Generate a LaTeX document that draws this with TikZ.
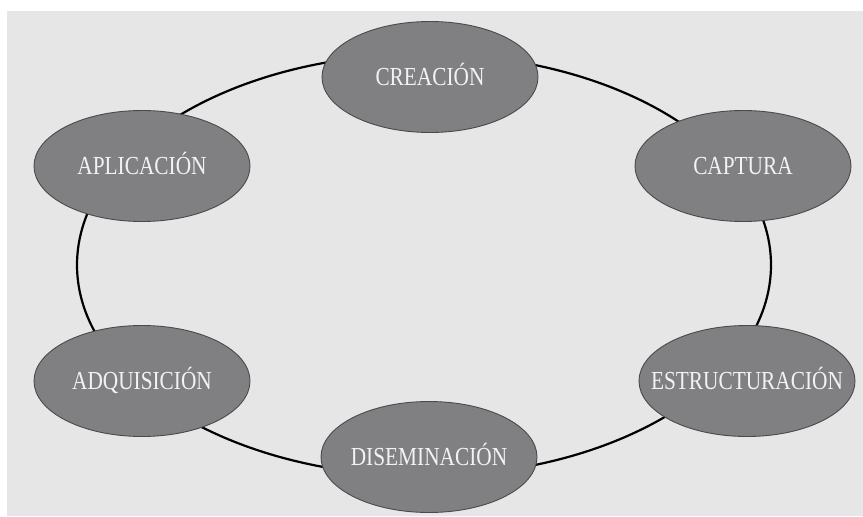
\documentclass[tikz,border=0pt]{standalone}
\usepackage{fontspec}
\setmainfont[FakeStretch=0.82]{Liberation Serif}
\usetikzlibrary{shapes.geometric}
\definecolor{bggray}{HTML}{E6E6E6}
\definecolor{nodegray}{HTML}{808083}
\definecolor{edgegray}{HTML}{4A4A4A}
\definecolor{txtwhite}{HTML}{F2F2F2}
\tikzset{
  stage/.style={ellipse, minimum width=216pt, minimum height=111pt, inner xsep=-30pt, inner ysep=0pt,
    text height=17pt, text depth=0pt,
    fill=nodegray, draw=edgegray, line width=0.9pt, text=txtwhite,
    font=\fontsize{26}{30}\selectfont},
  ringline/.style={ellipse, draw=black, line width=2.2pt, minimum width=694pt, minimum height=422pt, inner sep=0pt}
}
\begin{document}
\begin{tikzpicture}[x=1pt,y=-1pt]
\useasboundingbox (0,0) rectangle (863,517);
\fill[bggray] (7,11) rectangle (863,516);
\node[ringline] (ring) at (424,265) {};
\node[stage] (crea) at (430,77) {CREACIÓN};
\node[stage] (apli) at (142,166) {APLICACIÓN};
\node[stage] (capt) at (743,166) {CAPTURA};
\node[stage] (adqu) at (142,381) {ADQUISICIÓN};
\node[stage] (estr) at (747,381) {ESTRUCTURACIÓN};
\node[stage] (dise) at (429,457) {DISEMINACIÓN};
\end{tikzpicture}
\end{document}
